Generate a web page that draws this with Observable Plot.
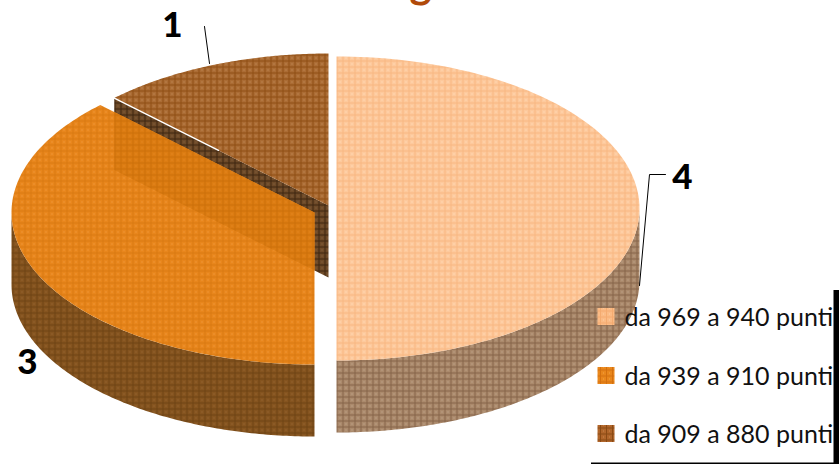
<!DOCTYPE html>
<html><head><meta charset="utf-8">
<script src="https://cdn.jsdelivr.net/npm/d3@7"></script>
<script src="https://cdn.jsdelivr.net/npm/@observablehq/plot@0.6"></script>
<style>html,body{margin:0;padding:0;background:#fff;overflow:hidden}svg{display:block}</style>
</head><body><div id="chart"></div>
<script>
const categories = ["da 969 a 940 punti", "da 939 a 910 punti", "da 909 a 880 punti"];
const values = [4, 3, 1];
const labels = ["4", "3", "1"];

const W = 839, H = 464, RX = 303, RY = 152, DEPTH = 72;
const centers = [[336, 208], [314, 212], [328, 205]];
const total = d3.sum(values);
let acc = 0;
const slices = values.map((v, i) => {
  const a0 = acc / total * 2 * Math.PI;
  acc += v;
  return {i, a0, a1: acc / total * 2 * Math.PI, cx: centers[i][0], cy: centers[i][1]};
});
const pt = (s, a, dy = 0) => ({x: s.cx + RX * Math.sin(a), y: s.cy - RY * Math.cos(a) + dy});
const arc = (s, a0, a1, dy = 0) => d3.range(0, 121).map(k => pt(s, a0 + (a1 - a0) * k / 120, dy));
const top_ = s => [{x: s.cx, y: s.cy}, ...arc(s, s.a0, s.a1)];
const side = (s, a0, a1) => [...arc(s, a0, a1), ...arc(s, a1, a0, DEPTH)];
const face = (s, a) => {const p = pt(s, a); return [p, {x: s.cx, y: s.cy}, {x: s.cx, y: s.cy + DEPTH}, {x: p.x, y: p.y + DEPTH}];};

const [s4, s3, s1] = slices;
const cutLeft = pt(s1, s1.a0).x;
const p3 = pt(s3, s3.a1);
const cutFrac = (cutLeft - p3.x) / (s3.cx - p3.x);
const innerTop = {x: cutLeft, y: p3.y + (s3.cy - p3.y) * cutFrac};
const innerFace = [innerTop, {x: s3.cx, y: s3.cy}, {x: s3.cx, y: s3.cy + 58}, {x: cutLeft, y: innerTop.y + 58}];

const pats = [
  ["p4top", "#fdc99c", "#f8b782", "#ffe0c4"],
  ["p3top", "#e8861c", "#d97a12", "#f3a24c"],
  ["p1top", "#ab6c34", "#8f4e14", "#c59262"],
  ["p4side", "#ab8a6c", "#86644a", "#c8ae98"],
  ["p3side", "#85541f", "#6e4414", "#9c6c3a"],
  ["p1face", "#6e4a28", "#3e2610", "#8a6a48"],
  ["p3face", "#dc7c12", "#cc700a", "#e88e28"],
  ["pL1", "#fbbb85", "#f4ab70", "#fdd0a8"],
  ["pL3", "#e9871c", "#d4700f", "#f3a24c"],
  ["pL2", "#b0652a", "#8a4a14", "#c88a50"]
];
const defs = () => {
  const svg = d3.create("svg:g");
  const d = svg.append("defs");
  for (const [id, base, line, dot] of pats) {
    const p = d.append("pattern").attr("id", id).attr("patternUnits", "userSpaceOnUse")
      .attr("width", 6).attr("height", 6);
    p.append("rect").attr("width", 6).attr("height", 6).attr("fill", base);
    p.append("rect").attr("x", 0).attr("width", 1).attr("height", 6).attr("fill", line);
    p.append("rect").attr("y", 0).attr("width", 6).attr("height", 1).attr("fill", line);
    p.append("rect").attr("x", 3).attr("y", 3).attr("width", 1).attr("height", 1).attr("fill", dot);
  }
  return svg.node();
};

const poly = (pts, fill) => Plot.line(pts, {x: "x", y: "y", fill, stroke: "none", curve: "linear"});
const legendY = [316, 375, 433];
const legendFill = ["url(#pL1)", "url(#pL3)", "url(#pL2)"];
const sliceLabels = [
  {t: labels[0], x: 682, y: 177}, {t: labels[1], x: 27, y: 362}, {t: labels[2], x: 172, y: 25}
];

const plot = Plot.plot({
  width: W, height: H, margin: 0,
  x: {domain: [0, W], range: [0, W], axis: null},
  y: {domain: [0, H], range: [0, H], axis: null},
  style: {background: "#fff"},
  marks: [
    defs,
    Plot.text(["g"], {x: [420], y: [-3], fontSize: 42, fontWeight: 700, fontFamily: "Lato", fill: "#b04a0a", lineAnchor: "bottom"}),
    poly(face(s1, s1.a0), "url(#p1face)"),
    poly(top_(s1), "url(#p1top)"),
    Plot.line([pt(s1, s1.a0), {x: s1.cx - 110, y: pt(s1, s1.a0).y + (s1.cy - pt(s1, s1.a0).y) * (1 - 110 / (s1.cx - pt(s1, s1.a0).x))}], {x: "x", y: "y", stroke: "#fff", strokeWidth: 1.4}),
    poly(side(s4, Math.PI / 2, Math.PI), "url(#p4side)"),
    poly(top_(s4), "url(#p4top)"),
    poly(side(s3, Math.PI, 1.5 * Math.PI), "url(#p3side)"),
    poly(top_(s3), "url(#p3top)"),
    poly(innerFace, "url(#p3face)"),
    Plot.line([{x: 204, y: 26}, {x: 209, y: 63}], {x: "x", y: "y", stroke: "#000", strokeWidth: 1}),
    Plot.line([{x: 665, y: 174}, {x: 649, y: 174}, {x: 639, y: 285}], {x: "x", y: "y", stroke: "#000", strokeWidth: 1}),
    Plot.text(sliceLabels, {x: "x", y: "y", text: "t", fontSize: 35, fontWeight: 900, fontFamily: "Lato", fill: "#000"}),
    ...categories.map((c, i) => Plot.dot([c], {x: [605.5], y: [legendY[i]], symbol: "square", r: 9.6, fill: legendFill[i], stroke: "none"})),
    Plot.text(categories, {x: () => 624, y: (d, i) => legendY[i] + 1, text: d => d, textAnchor: "start", fontSize: 25, fontFamily: "Lato", fill: "#111"}),
    Plot.ruleX([836], {y1: 290, y2: 464, stroke: "#000", strokeWidth: 6}),
    Plot.ruleY([463], {x1: 591, x2: 836, stroke: "#000", strokeWidth: 2})
  ]
});
document.getElementById("chart").append(plot);
</script></body></html>
